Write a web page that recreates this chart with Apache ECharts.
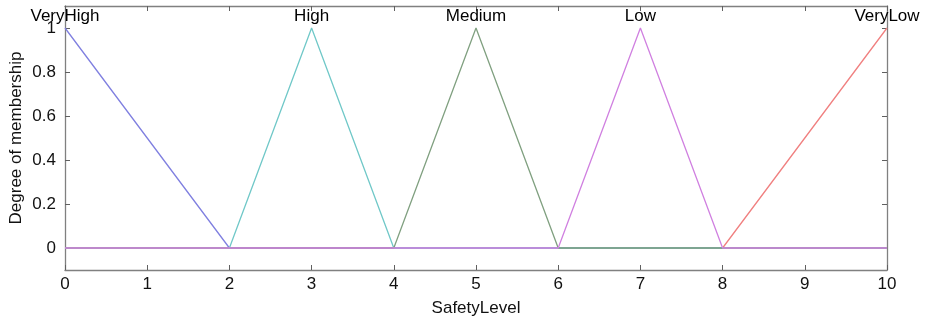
<!DOCTYPE html>
<html><head><meta charset="utf-8">
<script src="https://cdn.jsdelivr.net/npm/echarts@6/dist/echarts.min.js"></script>
<style>html,body{margin:0;padding:0;background:#fff}#c{width:925px;height:322px}</style>
</head><body><div id="c"></div>
<script>
var mfNames = ['VeryHigh','High','Medium','Low','VeryLow'];
var mfColors = ['#8080e0','#70c8c8','#80a080','#d080e0','#f08080'];
var mfX = [
  [0,2,10],
  [0,2,3,4,10],
  [0,4,5,6,10],
  [0,6,7,8,10],
  [0,8,10]
];
var mfY = [
  [1,0,0],
  [0,0,1,0,0],
  [0,0,1,0,0],
  [0,0,1,0,0],
  [0,0,1]
];
var peaks = [0,3,5,7,10];
var xTicks = [0,1,2,3,4,5,6,7,8,9,10];
var yTicks = [0,0.2,0.4,0.6,0.8,1];

var font = 'Liberation Sans, Arial, sans-serif';
var fs = 17;
var order = [4,0,1,2,3];
var series = order.map(function(i){
  return {
    type:'line', name:mfNames[i], symbol:'none', animation:false,
    data: mfX[i].map(function(x,k){return [x,mfY[i][k]];}),
    lineStyle:{color:mfColors[i], width:1.3}, z:2
  };
});
series.push({
  type:'scatter', symbolSize:0, clip:false, animation:false, z:5, silent:true,
  data: peaks.map(function(p,i){return {value:[p,1], name:mfNames[i]};}),
  label:{show:true, position:'top', distance:3, formatter:'{b}', color:'#000', opacity:1, fontSize:fs, fontFamily:font}
});
var chart = echarts.init(document.getElementById('c'));
var axisLineStyle = {show:true, onZero:false, lineStyle:{color:'#808080', width:1.3}};
var tickStyle = {color:'#606060'};
chart.setOption({
  backgroundColor:'#fff',
  grid:{left:65, right:38, top:6, bottom:52, containLabel:false, outerBoundsMode:'none'},
  xAxis:[{
    type:'value', min:0, max:10, interval:1, position:'bottom',
    axisLine:axisLineStyle, splitLine:{show:false},
    axisTick:{show:true, inside:true, length:5, lineStyle:tickStyle},
    axisLabel:{color:'#111', fontSize:fs, fontFamily:font, margin:6},
    name:'SafetyLevel', nameLocation:'middle', nameGap:30, nameMoveOverlap:false,
    nameTextStyle:{color:'#111', fontSize:fs, fontFamily:font}
  },{
    type:'value', min:0, max:10, interval:1, position:'top',
    axisLine:axisLineStyle, splitLine:{show:false},
    axisTick:{show:true, inside:true, length:5, lineStyle:tickStyle},
    axisLabel:{show:false}
  }],
  yAxis:[{
    type:'value', min:-0.1, max:1.1, position:'left',
    axisLine:axisLineStyle, splitLine:{show:false},
    axisTick:{show:true, inside:true, length:5, customValues:yTicks, lineStyle:tickStyle},
    axisLabel:{color:'#111', fontSize:fs, fontFamily:font, margin:9, customValues:yTicks,
      formatter:function(v){return String(Math.round(v*10)/10);}},
    name:'Degree of membership', nameLocation:'middle', nameGap:40, nameRotate:90, nameMoveOverlap:false,
    nameTextStyle:{color:'#111', fontSize:fs, fontFamily:font}
  },{
    type:'value', min:-0.1, max:1.1, position:'right',
    axisLine:axisLineStyle, splitLine:{show:false},
    axisTick:{show:true, inside:true, length:5, customValues:yTicks, lineStyle:tickStyle},
    axisLabel:{show:false}
  }],
  series:series
});
</script></body></html>
